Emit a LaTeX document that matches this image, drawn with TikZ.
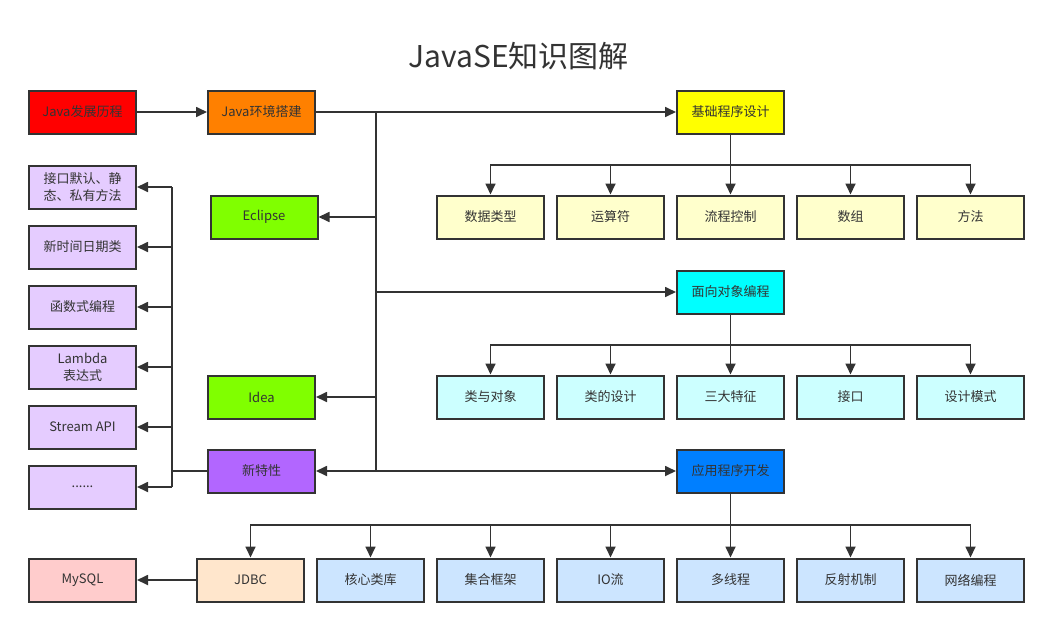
\documentclass[tikz,border=0pt]{standalone}
\usepackage{fontspec}
\setmainfont{Noto Sans CJK SC}
\usepackage{xcolor}
\usetikzlibrary{positioning}
\usetikzlibrary{arrows.meta}
\definecolor{edge}{HTML}{333333}
\definecolor{cRed}{HTML}{FF0000}
\definecolor{cOrange}{HTML}{FF8000}
\definecolor{cYellow}{HTML}{FFFF00}
\definecolor{cLYellow}{HTML}{FFFFCC}
\definecolor{cCyan}{HTML}{00FFFF}
\definecolor{cLCyan}{HTML}{CCFFFF}
\definecolor{cBlue}{HTML}{007FFF}
\definecolor{cLBlue}{HTML}{CCE5FF}
\definecolor{cGreen}{HTML}{80FF00}
\definecolor{cPurple}{HTML}{B266FF}
\definecolor{cLPurple}{HTML}{E5CCFF}
\definecolor{cPink}{HTML}{FFCCCC}
\definecolor{cPeach}{HTML}{FFE6CC}
\def\boxW{107pt}
\def\boxH{43pt}
\tikzset{% box and connector styles
  topic/.style = {draw=edge, line width=2pt, rectangle, minimum width=\boxW,
    minimum height=\boxH, align=center, inner sep=2pt, text=edge,
    font=\fontsize{13}{17}\selectfont, yshift=0pt},
  title/.style = {text=edge, font=\fontsize{30}{34}\selectfont},
  link/.style = {draw=edge, line width=1.7pt},
  arr/.style = {link, -{Triangle[length=11pt,width=10pt]}},
}

\begin{document}
\begin{tikzpicture}[x=1pt, y=-1pt]
  \useasboundingbox[fill=white] (0,0) rectangle (1049,627);

  \node[title] at (518.5,56) (Title) {JavaSE知识图解};

  \node[topic, fill=cRed] at (82.5,112) (Hist) {Java发展历程};
  \node[topic, fill=cOrange, right=70pt of Hist] (Env) {Java环境搭建};

  % main branches
  \node[topic, fill=cYellow] at (730.5,112) (Basic) {基础程序设计};
  \node[topic, fill=cCyan] at (730.5,292) (OOP) {面向对象编程};
  \node[topic, fill=cBlue] at (730.5,471) (App) {应用程序开发};

  \node[topic, fill=cGreen] at (264,217) (Eclipse) {Eclipse};
  \node[topic, fill=cGreen] at (261.5,397) (Idea) {Idea};
  \node[topic, fill=cPurple] at (261.5,471) (NewF) {新特性};

  % basic programming
  \node[topic, fill=cLYellow] at (490.5,217) (BasicData) {数据类型};
  \node[topic, fill=cLYellow, right=11pt of BasicData] (BasicOp) {运算符};
  \node[topic, fill=cLYellow, right=11pt of BasicOp] (BasicFlow) {流程控制};
  \node[topic, fill=cLYellow, right=11pt of BasicFlow] (BasicArr) {数组};
  \node[topic, fill=cLYellow, right=11pt of BasicArr] (BasicMeth) {方法};

  % object oriented
  \node[topic, fill=cLCyan] at (490.5,397) (OOPClass) {类与对象};
  \node[topic, fill=cLCyan, right=11pt of OOPClass] (OOPDesign) {类的设计};
  \node[topic, fill=cLCyan, right=11pt of OOPDesign] (OOPThree) {三大特征};
  \node[topic, fill=cLCyan, right=11pt of OOPThree] (OOPIface) {接口};
  \node[topic, fill=cLCyan, right=11pt of OOPIface] (OOPPattern) {设计模式};

  % application
  \node[topic, fill=cPeach] at (250.5,580) (AppJDBC) {JDBC};
  \node[topic, fill=cLBlue, right=11pt of AppJDBC] (AppCore) {核心类库};
  \node[topic, fill=cLBlue, right=11pt of AppCore] (AppColl) {集合框架};
  \node[topic, fill=cLBlue, right=11pt of AppColl] (AppIO) {IO流};
  \node[topic, fill=cLBlue, right=11pt of AppIO] (AppThread) {多线程};
  \node[topic, fill=cLBlue, right=11pt of AppThread] (AppRefl) {反射机制};
  \node[topic, fill=cLBlue, right=11pt of AppRefl] (AppNet) {网络编程};
  \node[topic, fill=cPink] at (82.5,580) (MySQL) {MySQL};

  % new features
  \node[topic, fill=cLPurple] at (82.5,187) (NewIface) {接口默认、静\\态、私有方法};
  \node[topic, fill=cLPurple, below=15pt of NewIface] (NewTime) {新时间日期类};
  \node[topic, fill=cLPurple, below=15pt of NewTime] (NewFunc) {函数式编程};
  \node[topic, fill=cLPurple, below=15pt of NewFunc] (NewLambda) {Lambda\\表达式};
  \node[topic, fill=cLPurple, below=15pt of NewLambda] (NewStream) {Stream API};
  \node[topic, fill=cLPurple, below=15pt of NewStream] (NewMore) {......};

  \coordinate (TrunkTop) at (376,112);
  \coordinate (TrunkBot) at (376,471);
  \coordinate (NewBus) at (172,471);
  \coordinate (BasicBus) at (730.5,165);
  \coordinate (OOPBus) at (730.5,345);
  \coordinate (AppBus) at (730.5,525);

  \draw[arr] (Hist) -- (Env);
  \draw[arr] (Env) -- (Basic);
  \draw[link, line width=2.6pt] (Env) -- (TrunkTop);
  \draw[link] (TrunkTop) -- (TrunkBot);
  \draw[arr] (TrunkTop |- Eclipse) -- (Eclipse);
  \draw[arr] (TrunkTop |- Idea) -- (Idea);
  \draw[arr] (TrunkTop |- OOP) -- (OOP);
  \draw[arr] (TrunkBot) -- (NewF);
  \draw[arr] (TrunkBot) -- (App);

  \foreach \n in {BasicData,BasicOp,BasicFlow,BasicArr,BasicMeth}
    \draw[arr] (Basic) -- (BasicBus) -| (\n.north);
  \foreach \n in {OOPClass,OOPDesign,OOPThree,OOPIface,OOPPattern}
    \draw[arr] (OOP) -- (OOPBus) -| (\n.north);
  \foreach \n in {AppJDBC,AppCore,AppColl,AppIO,AppThread,AppRefl,AppNet}
    \draw[arr] (App) -- (AppBus) -| (\n.north);

  \draw[link, line width=2.6pt] (NewF) -- (NewBus);
  \draw[link] (NewBus |- NewIface) -- (NewBus |- NewMore);
  \foreach \n in {NewIface,NewTime,NewFunc,NewLambda,NewStream,NewMore}
    \draw[arr] (NewBus |- \n) -- (\n);

  \draw[arr] (AppJDBC) -- (MySQL);
\end{tikzpicture}
\end{document}
